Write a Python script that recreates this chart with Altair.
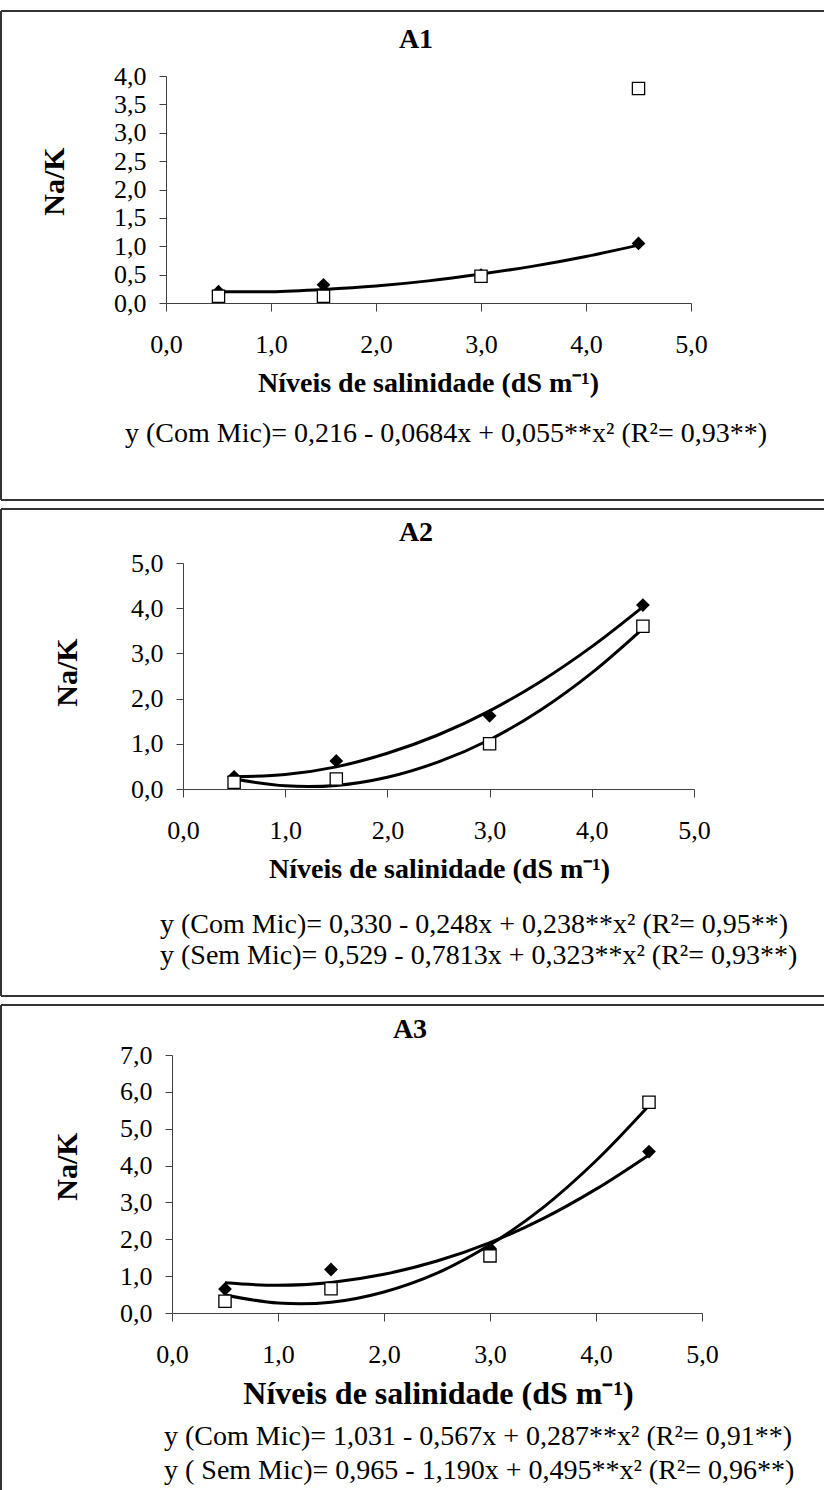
import altair as alt
import pandas as pd

# ---------------- data ----------------
salinity = [0.5, 1.5, 3.0, 4.5]

a1_com = [0.20, 0.32, 0.49, 1.05]
a1_sem = [0.12, 0.12, 0.47, 3.78]
a2_com = [0.27, 0.62, 1.62, 4.07]
a2_sem = [0.15, 0.22, 1.00, 3.60]
a3_com = [0.65, 1.18, 1.75, 4.38]
a3_sem = [0.32, 0.66, 1.55, 5.72]

# trend curves
curve_x = [0.5, 1.0, 1.5, 2.0, 2.5, 3.0, 3.5, 4.0, 4.5]
a1_com_curve = [0.20, 0.20, 0.24, 0.30, 0.39, 0.51, 0.65, 0.82, 1.02]
a2_com_curve = [0.27, 0.32, 0.49, 0.79, 1.20, 1.73, 2.38, 3.15, 4.03]
a2_sem_curve = [0.22, 0.07, 0.08, 0.26, 0.60, 1.09, 1.75, 2.57, 3.55]
a3_com_curve = [0.82, 0.75, 0.83, 1.05, 1.41, 1.91, 2.56, 3.36, 4.29]
a3_sem_curve = [0.49, 0.27, 0.29, 0.57, 1.08, 1.85, 2.86, 4.13, 5.63]

panel_titles = ["A1", "A2", "A3"]
y_title = "Na/K"
x_title = "Níveis de salinidade (dS m⁻¹)"
x_ticks = [0, 1, 2, 3, 4, 5]
a1_y_ticks = [0, 0.5, 1.0, 1.5, 2.0, 2.5, 3.0, 3.5, 4.0]
a2_y_ticks = [0, 1, 2, 3, 4, 5]
a3_y_ticks = [0, 1, 2, 3, 4, 5, 6, 7]

a1_equations = ["y (Com Mic)= 0,216 - 0,0684x + 0,055**x² (R²= 0,93**)"]
a2_equations = ["y (Com Mic)= 0,330 - 0,248x + 0,238**x² (R²= 0,95**)",
                "y (Sem Mic)= 0,529 - 0,7813x + 0,323**x² (R²= 0,93**)"]
a3_equations = ["y (Com Mic)= 1,031 - 0,567x + 0,287**x² (R²= 0,91**)",
                "y ( Sem Mic)= 0,965 - 1,190x + 0,495**x² (R²= 0,96**)"]

# ---------------- styling / layout ----------------
FONT = "Liberation Serif"
AXIS_COLOR = "#404040"
FRAME_COLOR = "#333333"
CANVAS_W = 828
CANVAS_H = 1490
X0 = 170  # common left edge of the panel groups
LABEL_EXPR = "replace(format(datum.value, '.1f'), '.', ',')"

panels = [
    dict(title=panel_titles[0], com=a1_com, sem=a1_sem, com_curve=a1_com_curve, sem_curve=None,
         yticks=a1_y_ticks, ymax=4.0, eqs=a1_equations,
         ox=170, oy=76, w=525, h=227, frame_top=11, frame_bottom=500,
         title_xy=(420, 40), ytitle_xy=(58, 181), xtitle_x=432, xtitle_size=28,
         eq_x=129, eq_y=[434]),
    dict(title=panel_titles[1], com=a2_com, sem=a2_sem, com_curve=a2_com_curve, sem_curve=a2_sem_curve,
         yticks=a2_y_ticks, ymax=5.0, eqs=a2_equations,
         ox=187, oy=563, w=511, h=226, frame_top=509, frame_bottom=996,
         title_xy=(420, 533), ytitle_xy=(71, 672), xtitle_x=443, xtitle_size=28,
         eq_x=164, eq_y=[925, 956]),
    dict(title=panel_titles[2], com=a3_com, sem=a3_sem, com_curve=a3_com_curve, sem_curve=a3_sem_curve,
         yticks=a3_y_ticks, ymax=7.0, eqs=a3_equations,
         ox=176, oy=1055, w=530, h=258, frame_top=1005, frame_bottom=None,
         title_xy=(414, 1030), ytitle_xy=(71, 1166), xtitle_x=442, xtitle_size=32,
         eq_x=168, eq_y=[1437, 1471]),
]
GROUP_W = max(p["ox"] + p["w"] for p in panels) - X0


def spacer(h):
    return alt.Chart(pd.DataFrame({"s": [0]})).mark_point(opacity=0).encode(
        x=alt.X("s:Q", axis=None), y=alt.Y("s:Q", axis=None)
    ).properties(width=1, height=h)


def text_mark(label, x, y, size, bold=False, align="center"):
    return alt.Chart(pd.DataFrame({"label": [label]})).mark_text(
        font=FONT, fontSize=size, fontWeight="bold" if bold else "normal",
        align=align, baseline="middle", color="black"
    ).encode(x=alt.value(x), y=alt.value(y), text="label:N")


def hrule(x1, x2, y):
    return alt.Chart(pd.DataFrame({"r": [0]})).mark_rule(
        color=FRAME_COLOR, strokeWidth=2
    ).encode(x=alt.value(x1), x2=alt.value(x2), y=alt.value(y))


def vrule(x, y1, y2):
    return alt.Chart(pd.DataFrame({"r": [0]})).mark_rule(
        color=FRAME_COLOR, strokeWidth=2
    ).encode(x=alt.value(x), y=alt.value(y1), y2=alt.value(y2))


def make_panel(p):
    ox, oy, w, h = p["ox"], p["oy"], p["w"], p["h"]
    dx = ox - X0
    rows = []
    for xv, yv in zip(salinity, p["com"]):
        rows.append(dict(x=xv, y=yv, kind="com", series="com"))
    for xv, yv in zip(salinity, p["sem"]):
        rows.append(dict(x=xv, y=yv, kind="sem", series="sem"))
    for xv, yv in zip(curve_x, p["com_curve"]):
        rows.append(dict(x=xv, y=yv, kind="curve", series="com"))
    if p["sem_curve"] is not None:
        for xv, yv in zip(curve_x, p["sem_curve"]):
            rows.append(dict(x=xv, y=yv, kind="curve", series="sem"))
    df = pd.DataFrame(rows)

    x_axis = alt.Axis(
        values=x_ticks, labelExpr=LABEL_EXPR, grid=False,
        labelFont=FONT, labelFontSize=26, labelColor="black", labelPadding=20,
        labelFlush=False, labelOverlap=False,
        tickSize=8, tickColor=AXIS_COLOR, tickWidth=1,
        domainColor=AXIS_COLOR, domainWidth=1,
        title=x_title, titleFont=FONT, titleFontSize=p["xtitle_size"], titleFontWeight="bold",
        titleColor="black", titleX=p["xtitle_x"] - X0, titleY=80,
        titleAlign="center", titleBaseline="middle",
    )
    ytx, yty = p["ytitle_xy"]
    y_axis = alt.Axis(
        values=p["yticks"], labelExpr=LABEL_EXPR, grid=False, offset=-dx,
        labelFont=FONT, labelFontSize=26, labelColor="black", labelPadding=13,
        labelFlush=False, labelOverlap=False,
        tickSize=7, tickColor=AXIS_COLOR, tickWidth=1,
        domainColor=AXIS_COLOR, domainWidth=1,
        title=y_title, titleFont=FONT, titleFontSize=30, titleFontWeight="bold",
        titleColor="black", titleAngle=270, titleX=ytx - ox, titleY=yty - oy,
        titleAlign="center", titleBaseline="middle",
    )
    xenc = alt.X("x:Q", scale=alt.Scale(domain=[0, 5], range=[dx, dx + w], nice=False, zero=False),
                 axis=x_axis)
    yenc = alt.Y("y:Q", scale=alt.Scale(domain=[0, p["ymax"]], nice=False), axis=y_axis)

    base = alt.Chart(df).encode(x=xenc, y=yenc)
    curves = base.transform_filter("datum.kind == 'curve'").mark_line(
        color="black", strokeWidth=3, interpolate="catmull-rom"
    ).encode(detail="series:N")
    diamonds = base.transform_filter("datum.kind == 'com'").mark_point(
        shape="diamond", filled=True, color="black", size=190, opacity=1
    )
    squares = base.transform_filter("datum.kind == 'sem'").mark_point(
        shape="square", filled=True, fill="white", stroke="black", strokeWidth=1.3,
        size=150, opacity=1
    )

    layers = []
    layers.append(hrule(5 - X0, CANVAS_W - X0, p["frame_top"] - oy))
    bottom = p["frame_bottom"] if p["frame_bottom"] is not None else CANVAS_H + 4
    layers.append(vrule(5 - X0, p["frame_top"] - oy, bottom - oy))
    if p["frame_bottom"] is not None:
        layers.append(hrule(5 - X0, CANVAS_W - X0, p["frame_bottom"] - oy))
    layers += [curves, diamonds, squares]
    tx, ty = p["title_xy"]
    layers.append(text_mark(p["title"], tx - X0, ty - oy, 28, bold=True))
    for eq, ey in zip(p["eqs"], p["eq_y"]):
        layers.append(text_mark(eq, p["eq_x"] - X0, ey - oy, 28, align="left"))

    return alt.layer(*layers).properties(width=GROUP_W, height=h)


p1, p2, p3 = [make_panel(p) for p in panels]

full = alt.vconcat(
    spacer(panels[0]["oy"]),
    p1,
    spacer(panels[1]["oy"] - (panels[0]["oy"] + panels[0]["h"])),
    p2,
    spacer(panels[2]["oy"] - (panels[1]["oy"] + panels[1]["h"])),
    p3,
    spacer(CANVAS_H - (panels[2]["oy"] + panels[2]["h"])),
    spacing=0, bounds="flush",
).properties(padding=0, background="white").configure_view(strokeOpacity=0)

full.save("out.html", embed_options={"renderer": "svg", "actions": False})
